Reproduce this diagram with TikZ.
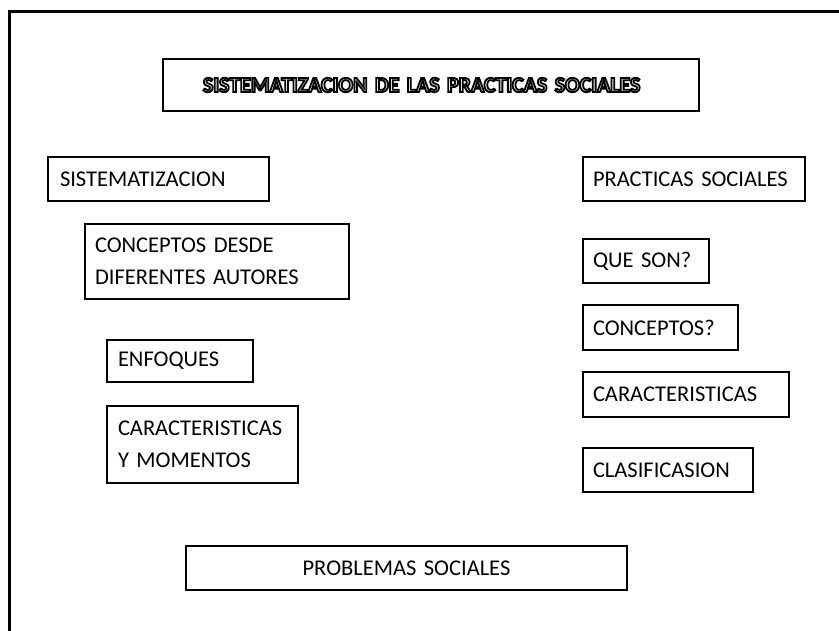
\documentclass[tikz,border=0pt]{standalone}
\usepackage{fontspec}
\setmainfont{Carlito}
\usepackage{tikz}
\usetikzlibrary{positioning}

% hollow (outlined) letters for the heading
\newcommand{\hollowtext}[1]{\special{pdf:literal direct 1 Tr 1.8 w}#1\special{pdf:literal direct 0 Tr}}

\begin{document}
\begin{tikzpicture}[x=1pt, y=-1pt,
        box/.style={draw, line width=1.8pt, outer sep=0pt, anchor=north west,
            align=left, inner xsep=#1, inner ysep=2pt,
            font=\fontsize{22.5}{32}\selectfont},
        box/.default=11pt]
        \useasboundingbox (0,0) rectangle (839,631);
        % outer frame (open on the right and at the bottom)
        \draw[line width=3pt] (9.5,631) -- (9.5,11.5) -- (839,11.5);

        \node[box=40pt, minimum width=536pt, minimum height=52pt, text width=456pt] (title) at (163,59)
            {\fontsize{21.8}{24}\selectfont\bfseries\hollowtext{SISTEMATIZACION DE LAS PRACTICAS SOCIALES}};

        % left column
        \node[box=12pt, minimum width=221pt, minimum height=44pt, text width=197pt] (sist) at (48,157) {SISTEMATIZACION};
        \node[box=10pt, minimum width=264pt, minimum height=75pt, text width=244pt,
            below right=23pt and 37pt of sist.south west] (conc) {CONCEPTOS DESDE\\DIFERENTES AUTORES};
        \node[box, minimum width=146pt, minimum height=42pt, text width=124pt,
            below right=41pt and 22pt of conc.south west] (enfo) {ENFOQUES};
        \node[box, minimum width=191pt, minimum height=77pt, text width=169pt,
            below=24pt of enfo.south west, anchor=north west] (cara) {CARACTERISTICAS\\Y MOMENTOS};

        % right column
        \node[box=10pt, minimum width=222pt, minimum height=44pt, text width=202pt] (prac) at (583,157) {PRACTICAS SOCIALES};
        \node[box=10pt, minimum width=126pt, minimum height=44pt, text width=106pt,
            below=38pt of prac.south west, anchor=north west] (queson) {QUE SON?};
        \node[box=10pt, minimum width=155pt, minimum height=45pt, text width=135pt,
            below=22pt of queson.south west, anchor=north west] (concq) {CONCEPTOS?};
        \node[box=10pt, minimum width=206pt, minimum height=45pt, text width=186pt,
            below=22pt of concq.south west, anchor=north west] (carr) {CARACTERISTICAS};
        \node[box=10pt, minimum width=170pt, minimum height=44pt, text width=150pt,
            below=31pt of carr.south west, anchor=north west] (clas) {CLASIFICASION};

        \node[box=10pt, minimum width=441pt, minimum height=44pt, text width=421pt, align=center] (prob) at (186,546) {PROBLEMAS SOCIALES};
    \end{tikzpicture}
\end{document}
